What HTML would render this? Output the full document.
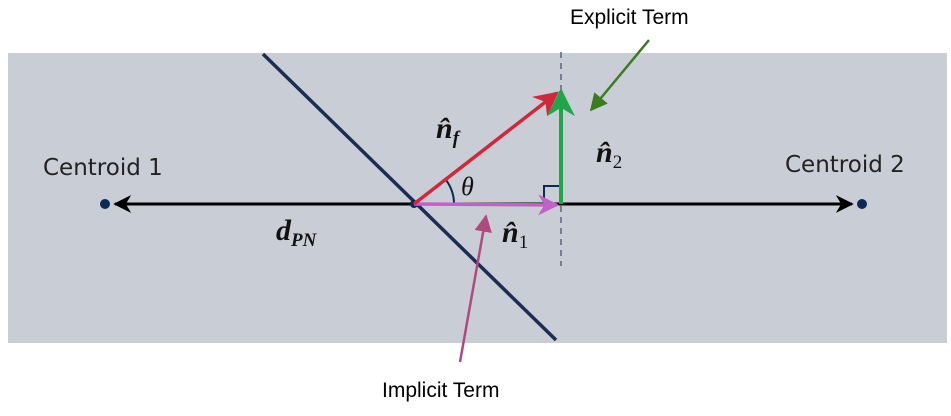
<!DOCTYPE html>
<html><head><style>
body{margin:0;background:#fff;width:951px;height:411px;overflow:hidden}
</style></head><body>
<svg width="951" height="411" xmlns="http://www.w3.org/2000/svg">
<defs>
<marker id="ab" viewBox="0 0 10 10" refX="9" refY="5" markerWidth="6" markerHeight="6" orient="auto-start-reverse"><path d="M0,0 L10,5 L0,10 L3,5 z" fill="#000"/></marker>
<marker id="ar" viewBox="0 0 10 10" refX="9" refY="5" markerWidth="7" markerHeight="7" orient="auto"><path d="M0,0 L10,5 L0,10 L3,5 z" fill="#d0283a"/></marker>
<marker id="ag" viewBox="0 0 10 10" refX="9" refY="5" markerWidth="7" markerHeight="7" orient="auto"><path d="M0,0 L10,5 L0,10 L3,5 z" fill="#1fa64a"/></marker>
<marker id="ap" viewBox="0 0 10 10" refX="9" refY="5" markerWidth="6" markerHeight="6" orient="auto"><path d="M0,0 L10,5 L0,10 L3,5 z" fill="#c361c8"/></marker>
<marker id="agn" viewBox="0 0 10 10" refX="9" refY="5" markerWidth="7" markerHeight="7" orient="auto"><path d="M0,0 L10,5 L0,10 z" fill="#3a7d1e"/></marker>
<marker id="apn" viewBox="0 0 10 10" refX="9" refY="5" markerWidth="7" markerHeight="7" orient="auto"><path d="M0,0 L10,5 L0,10 z" fill="#b04a7e"/></marker>
</defs>
<rect x="8" y="53" width="939" height="290" fill="#c9ced6"/>
<line x1="263" y1="54" x2="556" y2="340" stroke="#1b2e52" stroke-width="3.5"/>
<line x1="561" y1="52" x2="561" y2="266" stroke="#5a6480" stroke-width="1.5" stroke-dasharray="6,5"/>
<line x1="115" y1="204" x2="852" y2="204" stroke="#000" stroke-width="3" marker-start="url(#ab)" marker-end="url(#ab)"/>
<circle cx="105" cy="204" r="5" fill="#0d2a55"/>
<circle cx="862" cy="204" r="5" fill="#0d2a55"/>
<circle cx="414" cy="204" r="4" fill="#0d2a55"/>
<path d="M544 204 V186 H561" fill="none" stroke="#0d2a55" stroke-width="2"/>
<path d="M454 204 A40 40 0 0 0 446 180" fill="none" stroke="#0d2a55" stroke-width="2"/>
<line x1="414" y1="204" x2="557" y2="205" stroke="#c361c8" stroke-width="3.5" marker-end="url(#ap)"/>
<line x1="414" y1="204" x2="557" y2="93" stroke="#d0283a" stroke-width="3.5" marker-end="url(#ar)"/>
<line x1="561" y1="204" x2="561" y2="91" stroke="#1fa64a" stroke-width="4" marker-end="url(#ag)"/>
<line x1="649" y1="40" x2="591" y2="110" stroke="#3a7d1e" stroke-width="2.5" marker-end="url(#agn)"/>
<line x1="460" y1="362" x2="486" y2="216" stroke="#b04a7e" stroke-width="2.5" marker-end="url(#apn)"/>
<g font-family="DejaVu Sans, sans-serif" font-size="23" fill="#222">
<text x="43" y="175">Centroid 1</text>
<text x="785" y="172">Centroid 2</text>
</g>
<g font-family="Liberation Serif, serif" font-weight="bold" font-style="italic" fill="#111">
<text x="436" y="138" font-size="30">n̂<tspan font-size="19" dy="6">f</tspan></text>
<text x="596" y="162" font-size="30">n̂<tspan font-size="19" dy="6" font-style="normal" font-weight="normal">2</tspan></text>
<text x="502" y="242" font-size="30">n̂<tspan font-size="19" dy="6" font-style="normal" font-weight="normal">1</tspan></text>
<text x="276" y="240" font-size="30">d<tspan font-size="19" dy="6">PN</tspan></text>
<text x="461" y="195" font-size="26" font-weight="normal">θ</text>
</g>
<g font-family="Liberation Sans, sans-serif" font-size="21" fill="#000">
<text x="570" y="24">Explicit Term</text>
<text x="382" y="397">Implicit Term</text>
</g>
</svg>
</body></html>
